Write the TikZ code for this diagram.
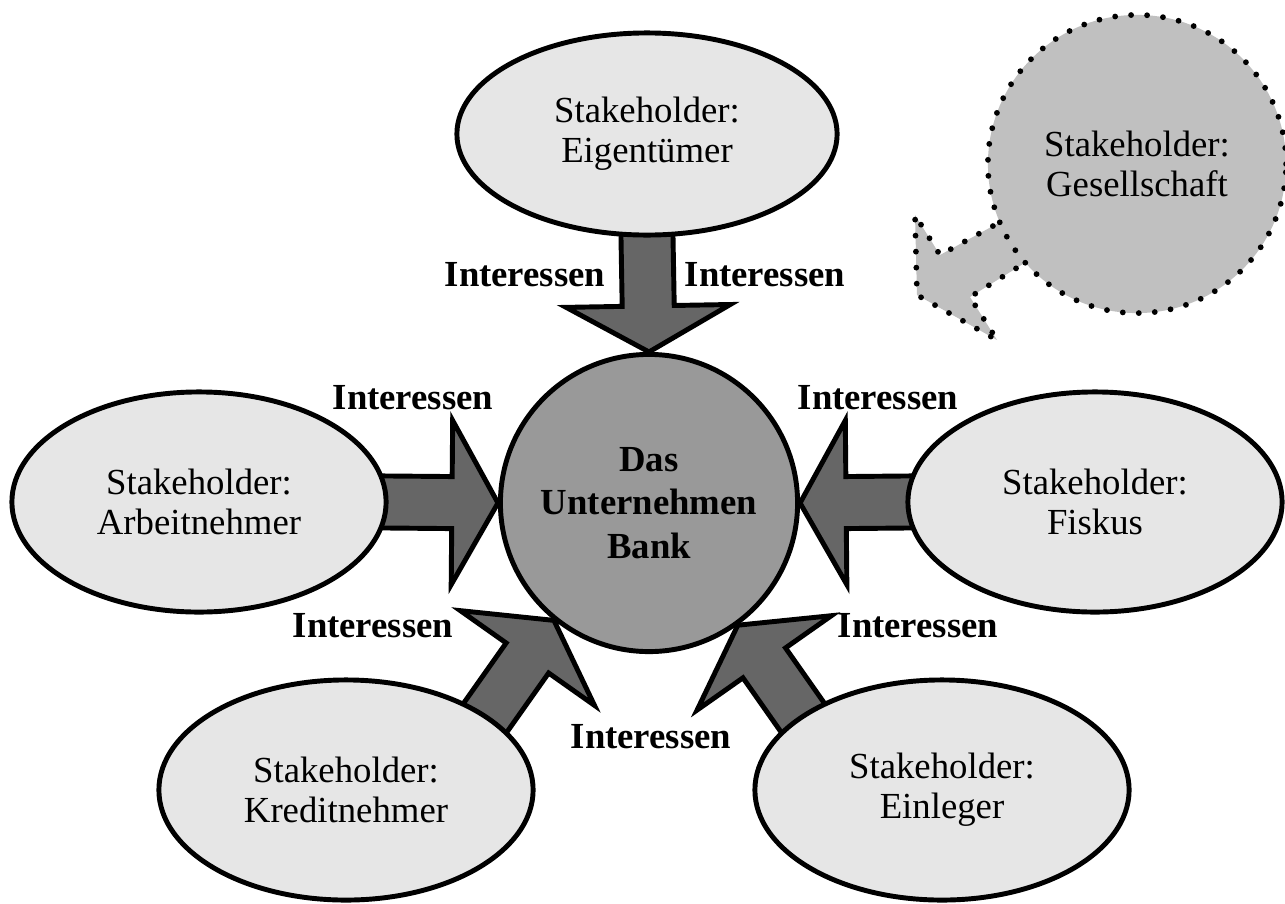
\documentclass[tikz,border=0pt]{standalone}
\usepackage{fontspec}
\setmainfont{Liberation Serif}
\usetikzlibrary{shapes.geometric,calc}
\definecolor{stakegray}{HTML}{E6E6E6}
\definecolor{bankgray}{HTML}{999999}
\definecolor{arrowgray}{HTML}{666666}
\definecolor{societygray}{HTML}{C0C0C0}
\pgfdeclarelayer{bg}
\pgfsetlayers{bg,main}

% block arrow from a stakeholder (#1) to the bank (#2)
\newcommand\interarrow[2]{%
  \coordinate (sa) at ($(#1)!-0.1cm!(#2)$);
  \coordinate (hb) at ($(#2)!0.46cm!(#1)$);
  \draw[arrowbox] ($(sa)!0.26cm!90:(#2)$) -- ($(hb)!0.26cm!90:(#2)$) -- ($(hb)!0.82cm!90:(#2)$) -- (#2)
    -- ($(hb)!0.82cm!-90:(#2)$) -- ($(hb)!0.26cm!-90:(#2)$) -- ($(sa)!0.26cm!-90:(#2)$) -- cycle;
}

\begin{document}
\begin{tikzpicture}[x=0.01cm,y=-0.01cm,
  stake/.style={ellipse,draw,line width=1.4pt,fill=stakegray,align=center,inner sep=0pt,
    minimum width=3.74cm,minimum height=2.2cm,font=\fontsize{10.45}{11.4}\selectfont},
  arrowbox/.style={draw,line width=1.4pt,fill=arrowgray,line join=miter},
  society/.style={draw,line width=0.058cm,dash pattern=on 0pt off 0.16cm,line cap=round,fill=societygray},
  intr/.style={inner sep=0pt,font=\bfseries\fontsize{10.45}{12}\selectfont}]
\useasboundingbox (0,0) rectangle (1285,903);

\node[circle,draw,line width=1.4pt,fill=bankgray,minimum size=2.97cm,align=center,
  font=\bfseries\fontsize{10.45}{12.3}\selectfont] (bank) at (649,503) {Das\\Unternehmen\\Bank};
\node[stake,minimum width=3.8cm,minimum height=2.02cm] (eig) at (647,134) {Stakeholder:\\Eigentümer};
\node[stake] (arb) at (199,502) {Stakeholder:\\Arbeitnehmer};
\node[stake] (fis) at (1095,502) {Stakeholder:\\Fiskus};
\node[stake] (kred) at (346,790) {Stakeholder:\\Kreditnehmer};
\node[stake] (einl) at (942,790) {Stakeholder:\\Einleger};
\node[circle,society,minimum size=2.98cm,align=center,
  font=\fontsize{10.45}{11.4}\selectfont] (ges) at (1137,164) {Stakeholder:\\Gesellschaft};

\begin{pgfonlayer}{bg}
\interarrow{eig.south}{bank.north}
\interarrow{arb.east}{bank.west}
\interarrow{fis.west}{bank.east}
\interarrow{kred.28}{bank.231}
\interarrow{einl.152}{bank.306}
% arrow of the society, behind its circle
\begin{scope}[shift={(ges.center)}]
\coordinate (gtip) at (-220,131);
\draw[society] (-102,39) -- (-197,91) -- (-222,51) -- (gtip) -- (-140,176) -- (-167,133) -- (-77,77) -- cycle;
\end{scope}
\end{pgfonlayer}

\foreach \p [count=\i] in {(525,275),(765,275),(413,398),(878,398),(373,626),(918,626),(651,737)}
  \node[intr] (int\i) at \p {Interessen};
\end{tikzpicture}
\end{document}
